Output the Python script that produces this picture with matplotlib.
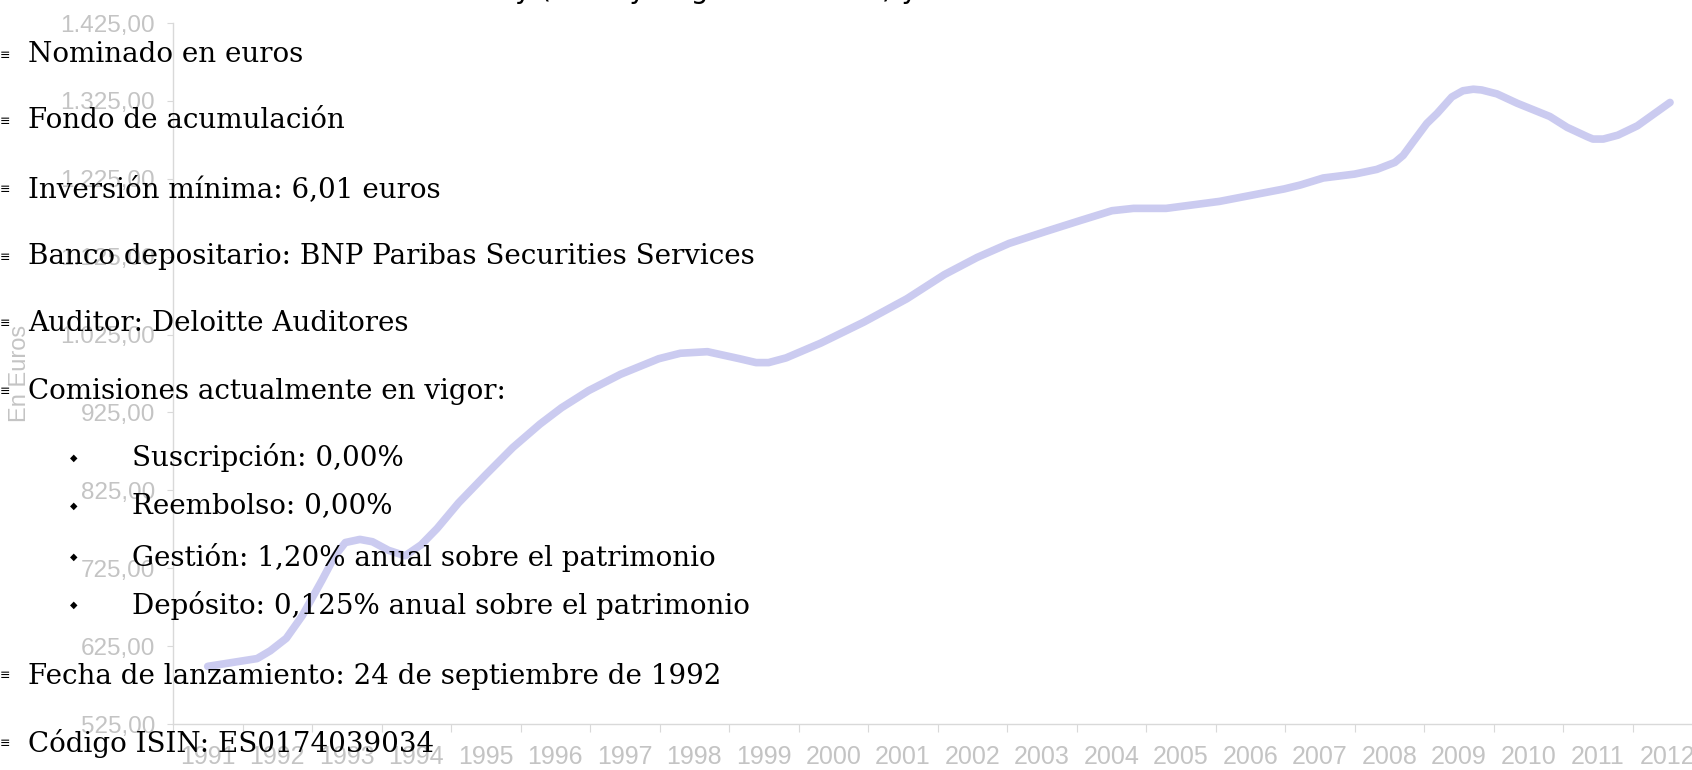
import numpy as np
import matplotlib
matplotlib.use("Agg")
import matplotlib.pyplot as plt
from matplotlib.ticker import FixedLocator, FuncFormatter, NullFormatter

# valor liquidativo, x en años decimales
fechas = [1991.50, 1992.21, 1992.40, 1992.63, 1992.86, 1993.14, 1993.33, 1993.48,
          1993.69, 1993.87, 1994.10, 1994.34, 1994.57, 1994.80, 1995.11, 1995.50,
          1995.89, 1996.28, 1996.59, 1996.98, 1997.44, 1997.99, 1998.30, 1998.69,
          1999.15, 1999.39, 1999.57, 1999.82, 2000.32, 2000.94, 2001.56, 2002.10,
          2002.57, 2003.03, 2003.58, 2004.04, 2004.51, 2004.82, 2005.29, 2006.06,
          2006.99, 2007.22, 2007.55, 2008.00, 2008.32, 2008.58, 2008.70, 2008.84,
          2009.04, 2009.19, 2009.40, 2009.56, 2009.71, 2009.83, 2010.05, 2010.34,
          2010.81, 2011.06, 2011.35, 2011.43, 2011.58, 2011.79, 2012.07, 2012.54]
valores = [599, 609, 619, 635, 664, 709, 741, 758,
           762, 759, 748, 741, 755, 776, 809, 845,
           880, 910, 931, 953, 974, 994, 1001, 1003,
           994, 989, 989, 995, 1014, 1041, 1071, 1102,
           1124, 1142, 1158, 1171, 1184, 1187, 1187, 1196,
           1212, 1217, 1226, 1231, 1237, 1246, 1255, 1272,
           1296, 1309, 1330, 1338, 1340, 1339, 1334, 1322,
           1305, 1291, 1279, 1276, 1276, 1281, 1293, 1323]

años = list(range(1991, 2013))
y_ticks = [525, 625, 725, 825, 925, 1025, 1125, 1225, 1325, 1425]

puntos = [
    (0, "Nominado en euros"),
    (0, "Fondo de acumulación"),
    (0, "Inversión mínima: 6,01 euros"),
    (0, "Banco depositario: BNP Paribas Securities Services"),
    (0, "Auditor: Deloitte Auditores"),
    (0, "Comisiones actualmente en vigor:"),
    (1, "Suscripción: 0,00%"),
    (1, "Reembolso: 0,00%"),
    (1, "Gestión: 1,20% anual sobre el patrimonio"),
    (1, "Depósito: 0,125% anual sobre el patrimonio"),
    (0, "Fecha de lanzamiento: 24 de septiembre de 1992"),
    (0, "Código ISIN: ES0174039034"),
]
puntos_y = [55, 121, 190, 257, 324, 392, 458, 506, 557, 605, 676, 743]  # px desde arriba

W, H = 1692, 770
gris = "#c4c4c4"
fig = plt.figure(figsize=(W / 100, H / 100), dpi=100)
ax = fig.add_axes([173 / W, (H - 724) / H, 1529 / W, 701 / H])

ax.plot(fechas, valores, color="#cbcbf0", lw=5.5, solid_joinstyle="round",
        solid_capstyle="round", zorder=1)

ax.set_xlim(1991, 2013)
ax.set_ylim(525, 1425)
for s in ["top", "right"]:
    ax.spines[s].set_visible(False)
for s in ["left", "bottom"]:
    ax.spines[s].set_color("#d9d9d9")
    ax.spines[s].set_linewidth(1)

ax.xaxis.set_major_locator(FixedLocator(range(1991, 2014)))
ax.xaxis.set_major_formatter(NullFormatter())
ax.xaxis.set_minor_locator(FixedLocator([a + 0.5 for a in años]))
ax.set_xticklabels([str(a) for a in años], minor=True)
ax.tick_params(axis="x", which="major", length=6, color="#d9d9d9", direction="out")
ax.tick_params(axis="x", which="minor", length=0, pad=15, labelsize=18, labelcolor=gris)

ax.set_yticks(y_ticks)
ax.yaxis.set_major_formatter(FuncFormatter(
    lambda v, p: f"{v:,.2f}".replace(",", "X").replace(".", ",").replace("X", ".")))
ax.tick_params(axis="y", length=4, color="#d9d9d9", pad=9, labelsize=17.5, labelcolor=gris)
for lab in ax.get_xticklabels(minor=True) + ax.get_yticklabels():
    lab.set_family("Liberation Sans")

fig.text(20 / W, 1 - 373 / H, "En Euros", color=gris, fontsize=17, rotation=90,
         ha="center", va="center", family="Liberation Sans")

# titulo cortado en la parte superior
fig.text(515 / W, 1 + 2 / H, "y (valor y origen del fondo) y rentabilidad",
         fontsize=20, va="baseline", ha="left", family="DejaVu Sans")

# lista de viñetas superpuesta
for (nivel, texto), py in zip(puntos, puntos_y):
    yf = 1 - py / H
    if nivel == 0:
        fig.text(0 / W, yf, "≡", fontsize=9, va="center", ha="left", family="DejaVu Sans")
        fig.text(28 / W, yf, texto, fontsize=20, va="center", ha="left",
                 family="DejaVu Serif", zorder=5)
    else:
        fig.text(70 / W, yf, "◆", fontsize=7, va="center", ha="left", family="DejaVu Sans")
        fig.text(132 / W, yf, texto, fontsize=20, va="center", ha="left",
                 family="DejaVu Serif", zorder=5)

fig.savefig("out.png", dpi=100)
